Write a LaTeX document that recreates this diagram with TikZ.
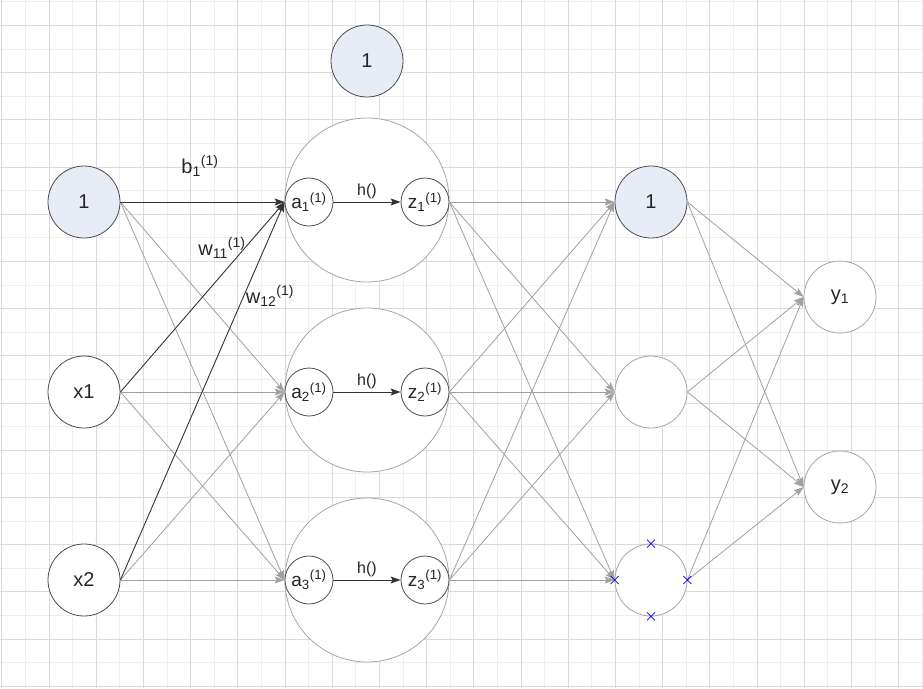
\documentclass[tikz,border=0pt]{standalone}
\usepackage{fontspec}
\setmainfont{Liberation Sans}
\usetikzlibrary{arrows.meta}

\definecolor{gridmaj}{HTML}{DADADA}
\definecolor{gridmin}{HTML}{EEEEEE}
\definecolor{nodefill}{HTML}{E8ECF7}
\definecolor{edgegray}{HTML}{A0A0A0}
\definecolor{edgedark}{HTML}{333333}

\newcommand{\ulab}[2]{#1\textsubscript{#2}\textsuperscript{(1)}}

\begin{document}
\begin{tikzpicture}[x=1pt, y=-1pt, >={Stealth[length=10pt, width=7pt, inset=2pt]},
    neuron/.style={circle, draw=black!70, fill=white, line width=0.8pt, minimum size=72pt, inner sep=0pt, text=black!85, font=\fontsize{20}{24}\selectfont},
    bias/.style={neuron, fill=nodefill},
    faint/.style={neuron, draw=black!35},
    actnode/.style={circle, draw=black!70, fill=white, line width=0.8pt, minimum size=48pt, inner sep=0pt, text=black!85, font=\fontsize{19}{22}\selectfont},
    cellbox/.style={circle, draw=black!35, fill=white, line width=0.8pt, minimum size=164pt},
    wire/.style={->, draw=edgegray, line width=0.8pt},
    strong/.style={->, draw=edgedark, line width=0.9pt},
    wlabel/.style={text=black!85, font=\fontsize{20}{24}\selectfont}]
    % Grid
    \useasboundingbox (0,0) rectangle (923,688);
    \fill[white] (0,0) rectangle (923,688);
    \foreach \i in {0,...,39} \draw[gridmin, line width=0.8pt] ({1.7+23.6*\i},0) -- ({1.7+23.6*\i},688);
    \foreach \i in {0,...,29} \draw[gridmin, line width=0.8pt] (0,{1.7+23.6*\i}) -- (923,{1.7+23.6*\i});
    \foreach \i in {0,...,19} \draw[gridmaj, line width=0.8pt] ({1.7+47.2*\i},0) -- ({1.7+47.2*\i},688);
    \foreach \i in {0,...,14} \draw[gridmaj, line width=0.8pt] (0,{25.3+47.2*\i}) -- (923,{25.3+47.2*\i});

    % Input layer
    \node[bias] (b0) at (84,202) {1};
    \node[neuron] (x1) at (84,392) {x1};
    \node[neuron] (x2) at (84,580) {x2};

    % Hidden cells
    \node[bias] (b1) at (367,61) {1};
    \foreach \k/\y in {1/200,2/390,3/580}
        \node[cellbox] (c\k) at (367,\y) {};
    \foreach \k/\y in {1/202,2/392,3/580} {
        \node[actnode] (a\k) at (309,\y) {\ulab{a}{\k}};
        \node[actnode] (z\k) at (425,\y) {\ulab{z}{\k}};
        \draw[strong] (a\k) -- node[above, inner sep=3pt, text=black!85, font=\fontsize{16}{18}\selectfont] {h()} (z\k);
    }

    % Second layer and outputs
    \node[bias] (h1) at (651,202) {1};
    \node[faint] (h2) at (651,392) {};
    \node[faint] (h3) at (651,580) {};
    \node[faint] (y1) at (840,297) {y\textsubscript{1}};
    \node[faint] (y2) at (840,487) {y\textsubscript{2}};

    % Edges
    \foreach \s in {b0,x1,x2} {
        \draw[wire] (\s.east) -- (a2.west);
        \draw[wire] (\s.east) -- (a3.west);
    }
    \foreach \s in {b0,x1,x2}
        \draw[strong] (\s.east) -- (a1.west);
    \foreach \s in {z1,z2,z3}
        \foreach \t in {h1,h2,h3}
            \draw[wire] (\s.east) -- (\t.west);
    \foreach \s in {h1,h2,h3}
        \foreach \t in {y1,y2}
            \draw[wire] (\s.east) -- (\t.west);

    % Weight labels
    \node[wlabel] (lb) at (200,166) {\ulab{b}{1}};
    \node[wlabel] (lw11) at (222,248) {w\textsubscript{11}\textsuperscript{(1)}};
    \node[wlabel] (lw12) at (270,296) {w\textsubscript{12}\textsuperscript{(1)}};

    % Dropped unit marks
    \foreach \p in {north,south,east,west}
        \draw[blue, line width=0.7pt] ([shift={(-4,-4)}]h3.\p) -- ([shift={(4,4)}]h3.\p)
            ([shift={(-4,4)}]h3.\p) -- ([shift={(4,-4)}]h3.\p);
\end{tikzpicture}
\end{document}
